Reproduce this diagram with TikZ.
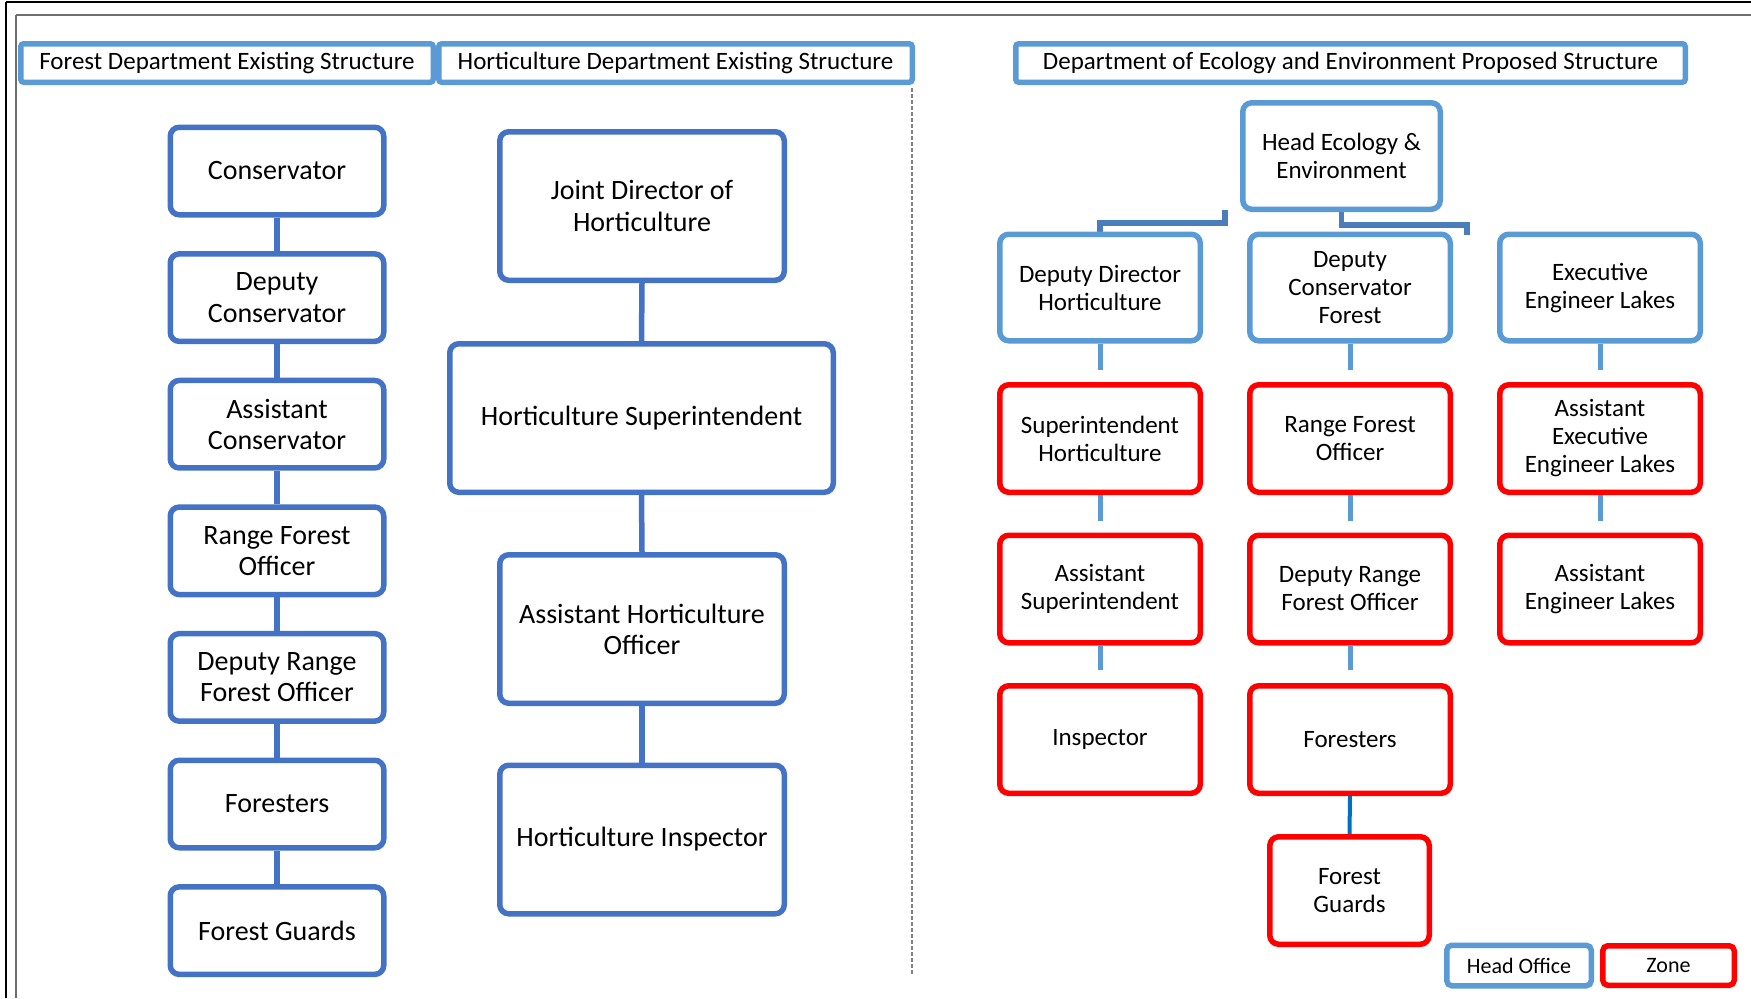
\documentclass[tikz,border=0pt]{standalone}
\usepackage{fontspec}
\setmainfont{Carlito}
\usetikzlibrary{backgrounds}

\definecolor{oldblue}{RGB}{68,114,196}
\definecolor{newblue}{RGB}{91,155,213}
\definecolor{linkblue}{RGB}{74,126,187}
\definecolor{zonered}{RGB}{255,0,0}
\definecolor{guardline}{RGB}{0,112,192}
\definecolor{framegray}{RGB}{110,110,110}

\tikzset{
  bw/.style={minimum width={(#1-5.5)*0.5pt}},
  bh/.style={minimum height={(#1-5.5)*0.5pt}},
  card/.style={draw, line width=2.75pt, fill=white, rounded corners=4.5pt,
               inner sep=0pt, align=center, text=black},
  oldcard/.style={card, draw=oldblue, font=\fontsize{14}{15.6}\selectfont},
  headcard/.style={card, draw=newblue, font=\fontsize{12.5}{14}\selectfont},
  zonecard/.style={card, draw=zonered, font=\fontsize{12.5}{14}\selectfont},
  titlebar/.style={draw=newblue, line width=2.75pt, fill=white, rounded corners=1.5pt,
               inner sep=0pt, font=\fontsize{12.5}{14}\selectfont},
  keycard/.style={card, rounded corners=2.5pt, font=\fontsize{11}{13}\selectfont},
  oldlink/.style={draw=oldblue, line width=2.75pt},
  stub/.style={draw=newblue, line width=2.5pt},
  bracket/.style={draw=linkblue, line width=2.75pt},
}

\begin{document}
\begin{tikzpicture}[x=0.5pt,y=-0.5pt]
\useasboundingbox (0,0) rectangle (1751,998);

% page frame (top and left edges)
\draw[black, line width=0.75pt] (6,2) -- (1751,2);
\draw[black, line width=0.75pt] (6,2) -- (6,998);
\draw[framegray, line width=1pt] (16,15) -- (1751,15);
\draw[framegray, line width=1pt] (16,15) -- (16,998);

% divider between existing and proposed structures
\draw[gray, line width=0.8pt, dash pattern=on 2pt off 1pt] (912,88) -- (912,975);

% section titles
\node[titlebar, bw=418, bh=44] (tforest) at (227,63) {Forest Department Existing Structure};
\node[titlebar, bw=479, bh=44] (thort) at (675.5,63) {Horticulture Department Existing Structure};
\node[titlebar, bw=675, bh=44] (teco) at (1350.5,63) {Department of Ecology and Environment Proposed Structure};

% Forest department chain
\node[oldcard, bw=219, bh=93] (f1) at (277,171)   {Conservator};
\node[oldcard, bw=219, bh=93] (f2) at (277,297.6) {Deputy\\Conservator};
\node[oldcard, bw=219, bh=93] (f3) at (277,424.2) {Assistant\\Conservator};
\node[oldcard, bw=219, bh=93] (f4) at (277,550.8) {Range Forest\\Officer};
\node[oldcard, bw=219, bh=93] (f5) at (277,677.4) {Deputy Range\\Forest Officer};
\node[oldcard, bw=219, bh=93] (f6) at (277,804)   {Foresters};
\node[oldcard, bw=219, bh=93] (f7) at (277,930.6) {Forest Guards};

% Horticulture department chain
\node[oldcard, bw=290, bh=154] (h1) at (642,206)   {Joint Director of\\Horticulture};
\node[oldcard, bw=389, bh=154] (h2) at (641.5,418) {Horticulture Superintendent};
\node[oldcard, bw=290, bh=154] (h3) at (642,629)   {Assistant Horticulture\\Officer};
\node[oldcard, bw=290, bh=154] (h4) at (642,839.5) {Horticulture Inspector};

% Proposed structure: head office
\node[headcard, bw=203, bh=112] (head) at (1341.5,156) {Head Ecology \&\\Environment};
\node[headcard, bw=206, bh=112] (dd) at (1100,287.5) {Deputy Director\\Horticulture};
\node[headcard, bw=206, bh=112] (dc) at (1350,287.5) {Deputy\\Conservator\\Forest};
\node[headcard, bw=206, bh=112] (ee) at (1600,287.5) {Executive\\Engineer Lakes};

% Proposed structure: zone offices
\node[zonecard, bw=206, bh=113] (sh)  at (1100,438.5) {Superintendent\\Horticulture};
\node[zonecard, bw=206, bh=113] (rfo) at (1350,438.5) {Range Forest\\Officer};
\node[zonecard, bw=206, bh=113] (aee) at (1600,438.5) {Assistant\\Executive\\Engineer Lakes};
\node[zonecard, bw=206, bh=113] (as)  at (1100,589) {Assistant\\Superintendent};
\node[zonecard, bw=206, bh=113] (drf) at (1350,589) {Deputy Range\\Forest Officer};
\node[zonecard, bw=206, bh=113] (ael) at (1600,589) {Assistant\\Engineer Lakes};
\node[zonecard, bw=206, bh=113] (ins) at (1100,739.5) {Inspector};
\node[zonecard, bw=206, bh=113] (fo)  at (1350,739.5) {Foresters};
\node[zonecard, bw=165, bh=113] (fg)  at (1349.5,890.5) {Forest\\Guards};

% legend
\node[keycard, draw=newblue, bw=150, bh=46] (kho) at (1519,965.5) {Head Office};
\node[keycard, draw=zonered, bw=137, bh=45] (kzone) at (1668.5,965.5) {Zone};

% loose ends of the head office brackets
\coordinate (lbend) at (1225,210);
\coordinate (rbend) at (1467,235);

\begin{scope}[on background layer]
  \fill[white] (0,0) rectangle (1751,998);

  % existing chains
  \foreach \a/\b in {f1/f2,f2/f3,f3/f4,f4/f5,f5/f6,f6/f7,h1/h2,h2/h3,h3/h4}
    \path[oldlink] (\a.south) -- (\b.north);

  % head office brackets
  \path[bracket, line join=miter] (dd.north) |- (1225,223) -- (lbend);
  \path[bracket, line join=miter] (head.south) |- (1467,225) -- (rbend);

  % short stubs below each proposed post
  \foreach \n in {dd,dc,ee}
    \path[stub] (\n.south) -- ++(0,26.5);
  \foreach \n in {sh,rfo,aee}
    \path[stub] (\n.south) -- ++(0,25.5);
  \foreach \n in {as,drf}
    \path[stub] (\n.south) -- ++(0,24.5);

  % foresters to forest guards
  \path[draw=guardline, line width=2pt] (fo.south) -- (fg.north);
\end{scope}
\end{tikzpicture}
\end{document}
